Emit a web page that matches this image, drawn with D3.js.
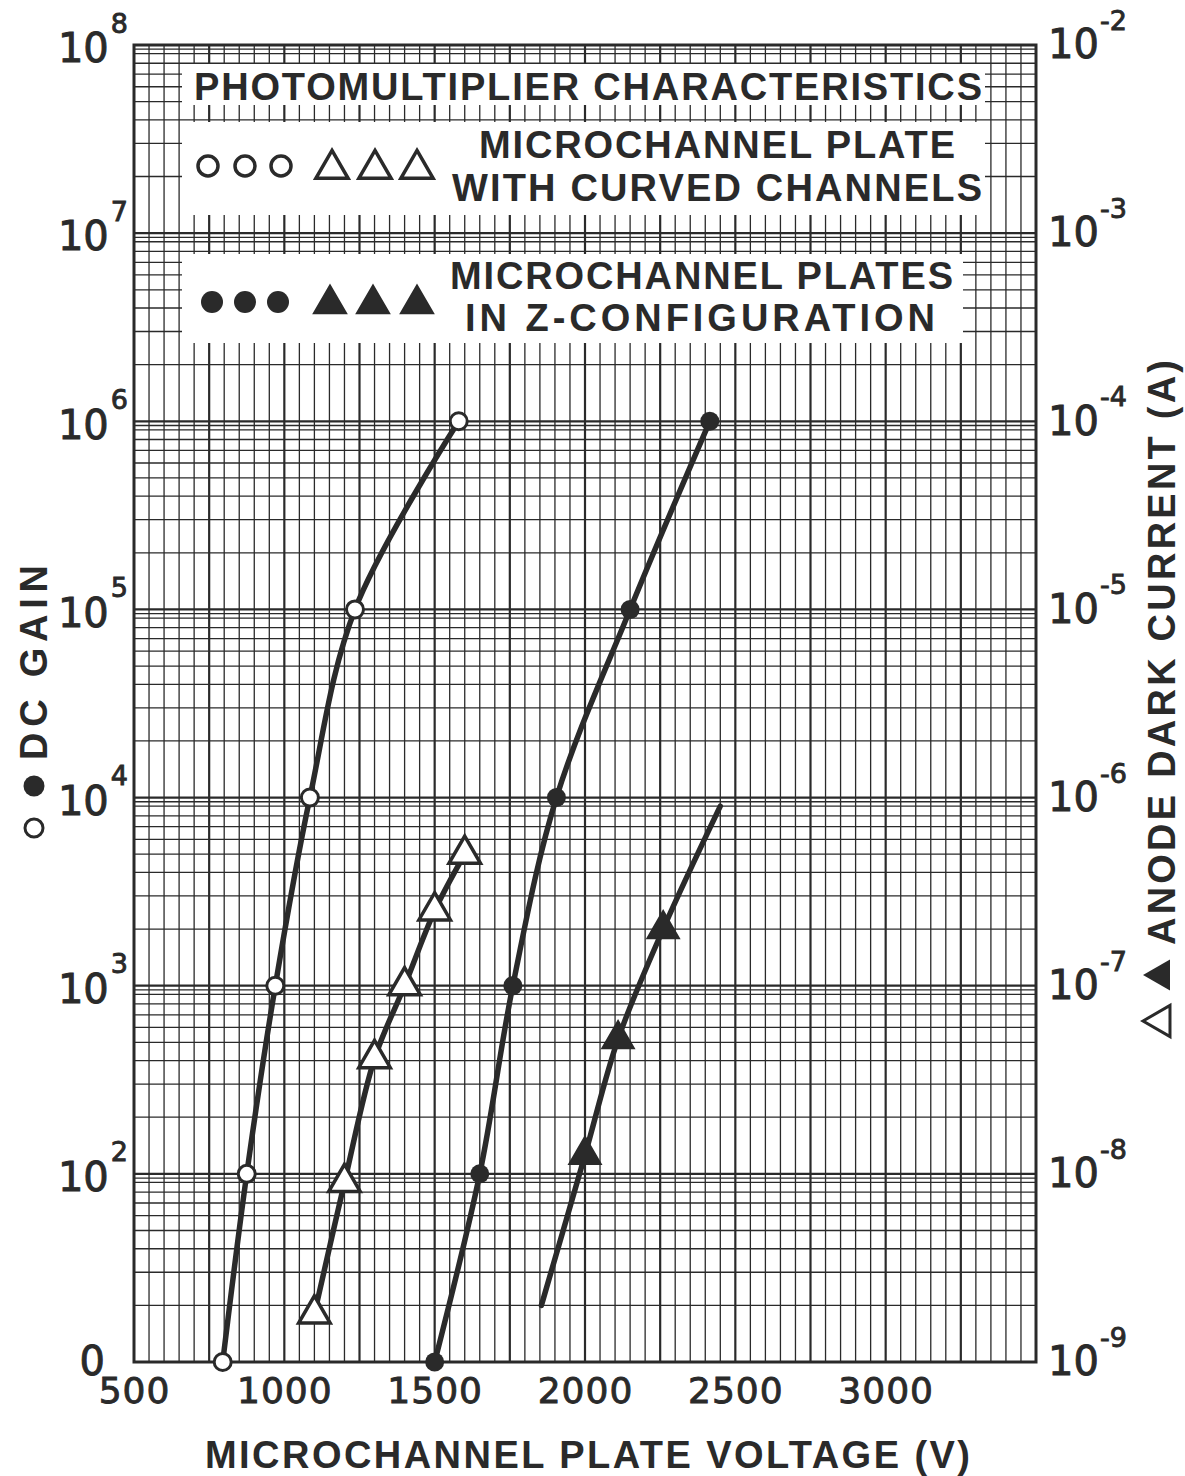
<!DOCTYPE html>
<html>
<head>
<meta charset="utf-8">
<script src="https://cdn.jsdelivr.net/npm/d3@7"></script>
<style>
  body { margin: 0; background: #fff; }
  svg { display: block; }
</style>
</head>
<body>
<svg id="chart"></svg>
<script>
// values
const openCircleVolts = [795, 875, 970, 1085, 1235, 1580];
const openCircleGain = [10, 100, 1e3, 1e4, 1e5, 1e6];

const filledCircleVolts = [1500, 1650, 1760, 1905, 2150, 2415];
const filledCircleGain = [10, 100, 1e3, 1e4, 1e5, 1e6];

const openTriangleVolts = [1100, 1200, 1300, 1400, 1500, 1600];
const openTriangleCurrent = [1.8e-9, 9e-9, 4.1e-8, 1e-7, 2.5e-7, 5e-7];

// the Z-configuration current line runs past its markers
const filledLineVolts = [1855, 2000, 2110, 2260, 2450];
const filledLineCurrent = [2e-9, 1.26e-8, 5.2e-8, 2e-7, 9e-7];
const filledTriangleVolts = [2000, 2110, 2260];
const filledTriangleCurrent = [1.26e-8, 5.2e-8, 2e-7];

const voltTicks = [500, 1000, 1500, 2000, 2500, 3000];
const gainTicks = [1e1, 1e2, 1e3, 1e4, 1e5, 1e6, 1e7, 1e8];
const gainExponents = ["", "2", "3", "4", "5", "6", "7", "8"];
const currentTicks = [1e-9, 1e-8, 1e-7, 1e-6, 1e-5, 1e-4, 1e-3, 1e-2];
const currentExponents = ["-9", "-8", "-7", "-6", "-5", "-4", "-3", "-2"];

const titleText = "PHOTOMULTIPLIER CHARACTERISTICS";
const legendOpenText = ["MICROCHANNEL PLATE", "WITH CURVED CHANNELS"];
const legendFilledText = ["MICROCHANNEL PLATES", "IN Z-CONFIGURATION"];

let config = { svg: {}, plot: {} };
config.svg.width = 1185;
config.svg.height = 1476;
config.plot.left = 134;
config.plot.right = 1036;
config.plot.top = 45;
config.plot.bottom = 1362;

const ink = "#2a2a2a";
const labelFont = "'Liberation Sans', Arial, sans-serif";
const numberFont = "'DejaVu Sans', sans-serif";

let svg = d3.select("svg#chart")
  .attr("width", config.svg.width)
  .attr("height", config.svg.height)
  .style("background", "#fff");

let scale = {};
scale.x = d3.scaleLinear().domain([500, 3500]).range([config.plot.left, config.plot.right]);
scale.gain = d3.scaleLog().domain([10, 1e8]).range([config.plot.bottom, config.plot.top]);
scale.current = d3.scaleLog().domain([1e-9, 1e-2]).range([config.plot.bottom, config.plot.top]);

drawGrid();
drawLegendBoxes();
drawCurves();
drawAxes();
drawTitles();

function drawGrid() {
  let grid = svg.append("g").attr("id", "grid").attr("stroke", ink);

  grid.selectAll("line.v")
    .data(d3.range(550, 3500, 50))
    .enter()
    .append("line")
    .attr("class", "v")
    .attr("x1", d => scale.x(d))
    .attr("x2", d => scale.x(d))
    .attr("y1", config.plot.top)
    .attr("y2", config.plot.bottom)
    .attr("stroke-width", d => d % 250 === 0 ? 2.2 : 1.3);

  let rows = [];
  for (let e = 1; e < 8; e++) {
    for (const m of [1, 2, 3, 4, 5, 6, 7, 8, 9, 9.5]) {
      const v = m * Math.pow(10, e);
      if (v > 10 && v < 1e8) rows.push({ v: v, major: m === 1 });
    }
  }

  grid.selectAll("line.h")
    .data(rows)
    .enter()
    .append("line")
    .attr("class", "h")
    .attr("x1", config.plot.left)
    .attr("x2", config.plot.right)
    .attr("y1", d => scale.gain(d.v))
    .attr("y2", d => scale.gain(d.v))
    .attr("stroke-width", d => d.major ? 2.2 : 1.3);

  svg.append("rect")
    .attr("x", config.plot.left)
    .attr("y", config.plot.top)
    .attr("width", config.plot.right - config.plot.left)
    .attr("height", config.plot.bottom - config.plot.top)
    .attr("fill", "none")
    .attr("stroke", ink)
    .attr("stroke-width", 3);
}

function drawLegendBoxes() {
  let boxes = [
    { x: 182, y: 64, w: 803, h: 41 },
    { x: 182, y: 122, w: 803, h: 93 },
    { x: 182, y: 254, w: 781, h: 89 }
  ];
  svg.append("g").selectAll("rect")
    .data(boxes)
    .enter()
    .append("rect")
    .attr("x", d => d.x)
    .attr("y", d => d.y)
    .attr("width", d => d.w)
    .attr("height", d => d.h)
    .attr("fill", "#fff");

  let legend = svg.append("g")
    .attr("font-family", labelFont)
    .attr("font-weight", "bold")
    .attr("font-size", 38)
    .attr("fill", ink);

  legend.append("text").text(titleText)
    .attr("x", 194).attr("y", 100)
    .attr("textLength", 788).attr("lengthAdjust", "spacing");

  legend.append("text").text(legendOpenText[0])
    .attr("x", 479).attr("y", 158)
    .attr("textLength", 476).attr("lengthAdjust", "spacing");
  legend.append("text").text(legendOpenText[1])
    .attr("x", 452).attr("y", 201)
    .attr("textLength", 530).attr("lengthAdjust", "spacing");

  legend.append("text").text(legendFilledText[0])
    .attr("x", 450).attr("y", 289)
    .attr("textLength", 503).attr("lengthAdjust", "spacing");
  legend.append("text").text(legendFilledText[1])
    .attr("x", 465).attr("y", 331)
    .attr("textLength", 470).attr("lengthAdjust", "spacing");

  let tri = d3.symbol(d3.symbolTriangle, 450);

  [208, 245, 281].forEach(cx => {
    legend.append("circle").attr("cx", cx).attr("cy", 166).attr("r", 10)
      .attr("fill", "#fff").attr("stroke", ink).attr("stroke-width", 3.5);
  });
  [332, 375, 417].forEach(cx => {
    legend.append("path").attr("d", tri).attr("transform", translate(cx, 169))
      .attr("fill", "#fff").attr("stroke", ink).attr("stroke-width", 3.5).attr("stroke-linejoin", "miter");
  });
  [212, 245, 278].forEach(cx => {
    legend.append("circle").attr("cx", cx).attr("cy", 302).attr("r", 11)
      .attr("fill", ink);
  });
  [330, 373, 417].forEach(cx => {
    legend.append("path").attr("d", tri).attr("transform", translate(cx, 304))
      .attr("fill", ink).attr("stroke", ink).attr("stroke-width", 2);
  });
}

function drawCurves() {
  let gainLine = d3.line()
    .x(d => scale.x(d[0]))
    .y(d => scale.gain(d[1]))
    .curve(d3.curveCatmullRom.alpha(0.5));

  let currentLine = d3.line()
    .x(d => scale.x(d[0]))
    .y(d => scale.current(d[1]))
    .curve(d3.curveCatmullRom.alpha(0.5));

  let openCircles = d3.zip(openCircleVolts, openCircleGain);
  let filledCircles = d3.zip(filledCircleVolts, filledCircleGain);
  let openTriangles = d3.zip(openTriangleVolts, openTriangleCurrent);
  let filledLine = d3.zip(filledLineVolts, filledLineCurrent);
  let filledTriangles = d3.zip(filledTriangleVolts, filledTriangleCurrent);

  let curves = svg.append("g")
    .attr("fill", "none")
    .attr("stroke", ink)
    .attr("stroke-width", 5.5)
    .attr("stroke-linecap", "round");

  curves.append("path").attr("d", gainLine(openCircles));
  curves.append("path").attr("d", gainLine(filledCircles));
  curves.append("path").attr("d", currentLine(openTriangles));
  curves.append("path").attr("d", currentLine(filledLine));

  let marks = svg.append("g");
  let tri = d3.symbol(d3.symbolTriangle, 430);

  marks.selectAll("circle.open")
    .data(openCircles)
    .enter()
    .append("circle")
    .attr("class", "open")
    .attr("cx", d => scale.x(d[0]))
    .attr("cy", d => scale.gain(d[1]))
    .attr("r", 8.5)
    .attr("fill", "#fff")
    .attr("stroke", ink)
    .attr("stroke-width", 3);

  marks.selectAll("circle.filled")
    .data(filledCircles)
    .enter()
    .append("circle")
    .attr("class", "filled")
    .attr("cx", d => scale.x(d[0]))
    .attr("cy", d => scale.gain(d[1]))
    .attr("r", 9.5)
    .attr("fill", ink);

  marks.selectAll("path.open")
    .data(openTriangles)
    .enter()
    .append("path")
    .attr("class", "open")
    .attr("d", tri)
    .attr("transform", d => translate(scale.x(d[0]), scale.current(d[1])))
    .attr("fill", "#fff")
    .attr("stroke", ink)
    .attr("stroke-width", 3.5);

  marks.selectAll("path.filled")
    .data(filledTriangles)
    .enter()
    .append("path")
    .attr("class", "filled")
    .attr("d", tri)
    .attr("transform", d => translate(scale.x(d[0]), scale.current(d[1])))
    .attr("fill", ink)
    .attr("stroke", ink)
    .attr("stroke-width", 2);
}

function drawAxes() {
  let axis = {};
  axis.x = d3.axisBottom(scale.x).tickValues(voltTicks).tickSize(0).tickPadding(15).tickFormat(d3.format("d"));
  axis.left = d3.axisLeft(scale.gain).tickValues(gainTicks).tickSize(0).tickPadding(6).tickFormat(() => "");
  axis.right = d3.axisRight(scale.current).tickValues(currentTicks).tickSize(0).tickPadding(12).tickFormat(() => "");

  let gx = svg.append("g")
    .attr("transform", translate(0, config.plot.bottom))
    .call(axis.x);
  gx.select(".domain").remove();
  gx.selectAll(".tick text")
    .attr("font-family", numberFont)
    .attr("font-size", 36)
    .attr("fill", ink)
    .attr("stroke", ink)
    .attr("stroke-width", 0.9)
    .attr("letter-spacing", 1);

  let gl = svg.append("g")
    .attr("transform", translate(config.plot.left, 0))
    .call(axis.left);
  gl.select(".domain").remove();
  gl.selectAll(".tick text").each(function(d, i) {
    let t = d3.select(this)
      .attr("font-family", numberFont)
      .attr("font-size", 40)
      .attr("fill", ink)
      .attr("stroke", ink)
      .attr("stroke-width", 0.9)
      .attr("dy", "0.42em");
    if (gainExponents[i] === "") {
      t.attr("x", -29).attr("dy", "0.3em").text("0");
    } else {
      t.append("tspan").text("10");
      t.append("tspan").text(gainExponents[i]).attr("font-size", 27).attr("dy", "-1.1em").attr("dx", 2);
    }
  });

  let gr = svg.append("g")
    .attr("transform", translate(config.plot.right, 0))
    .call(axis.right);
  gr.select(".domain").remove();
  gr.selectAll(".tick text").each(function(d, i) {
    let t = d3.select(this)
      .attr("font-family", numberFont)
      .attr("font-size", 40)
      .attr("fill", ink)
      .attr("stroke", ink)
      .attr("stroke-width", 0.9)
      .attr("dy", "0.32em");
    t.append("tspan").text("10");
    t.append("tspan").text(currentExponents[i]).attr("font-size", 27).attr("dy", "-1.05em").attr("dx", 1);
  });
}

function drawTitles() {
  let titles = svg.append("g")
    .attr("font-family", labelFont)
    .attr("font-weight", "bold")
    .attr("font-size", 38)
    .attr("fill", ink);

  titles.append("text")
    .text("MICROCHANNEL PLATE VOLTAGE (V)")
    .attr("x", 205)
    .attr("y", 1468)
    .attr("textLength", 765)
    .attr("lengthAdjust", "spacing");

  let left = titles.append("g").attr("transform", translate(47, 760) + " rotate(-90)");
  left.append("text").text("DC GAIN")
    .attr("x", 0).attr("y", 0)
    .attr("textLength", 195).attr("lengthAdjust", "spacing");
  left.append("circle").attr("cx", -26).attr("cy", -13).attr("r", 10.5).attr("fill", ink);
  left.append("circle").attr("cx", -68).attr("cy", -13).attr("r", 9)
    .attr("fill", "#fff").attr("stroke", ink).attr("stroke-width", 3);

  let right = titles.append("g").attr("transform", translate(1175, 945) + " rotate(-90)");
  right.append("text").text("ANODE DARK CURRENT (A)")
    .attr("x", 0).attr("y", 0)
    .attr("textLength", 585).attr("lengthAdjust", "spacing");
  let tri = d3.symbol(d3.symbolTriangle, 420);
  right.append("path").attr("d", tri).attr("transform", translate(-30, -14))
    .attr("fill", ink);
  right.append("path").attr("d", tri).attr("transform", translate(-76, -14))
    .attr("fill", "#fff").attr("stroke", ink).attr("stroke-width", 3);
}

function translate(x, y) {
  return "translate(" + x + "," + y + ")";
}
</script>
</body>
</html>
